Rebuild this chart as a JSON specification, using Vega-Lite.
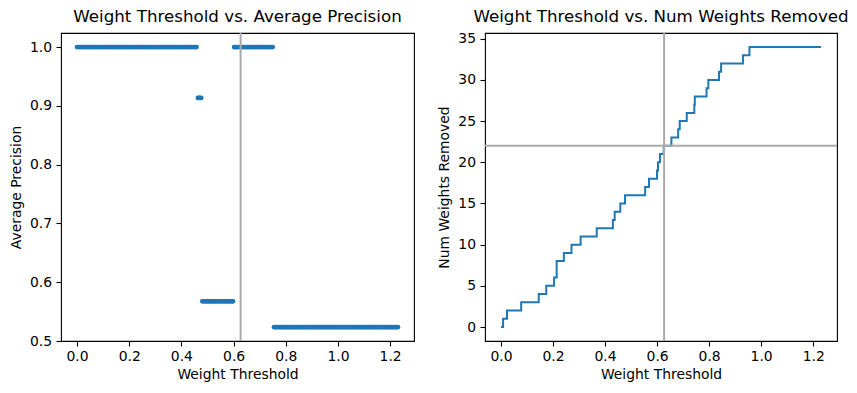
{
  "$schema": "https://vega.github.io/schema/vega-lite/v6.json",
  "background": "white",
  "padding": {"left": 8, "top": 8, "right": 5, "bottom": 5},
  "spacing": 22,
  "config": {
    "font": "DejaVu Sans",
    "view": {"stroke": "#000000", "strokeWidth": 1.1},
    "axis": {"grid": false, "domain": false, "tickColor": "#000000", "tickSize": 5, "tickWidth": 1.1, "labelColor": "#000000", "labelFontSize": 13.9, "titleFontSize": 13.9, "titleFontWeight": "normal", "titleColor": "#000000", "labelFont": "DejaVu Sans", "titleFont": "DejaVu Sans"},
    "axisX": {"labelPadding": 3.5, "titlePadding": 4},
    "axisY": {"labelPadding": 4.5, "titlePadding": 6},
    "title": {"fontSize": 16.7, "fontWeight": "normal", "color": "#000000", "font": "DejaVu Sans", "frame": "group", "anchor": "middle", "baseline": "alphabetic", "offset": 6}
  },
  "datasets": {
    "precision": [
      {"threshold": 0.000, "ap": 1.0}, {"threshold": 0.005, "ap": 1.0}, {"threshold": 0.010, "ap": 1.0}, {"threshold": 0.015, "ap": 1.0}, {"threshold": 0.020, "ap": 1.0},
      {"threshold": 0.025, "ap": 1.0}, {"threshold": 0.030, "ap": 1.0}, {"threshold": 0.035, "ap": 1.0}, {"threshold": 0.040, "ap": 1.0}, {"threshold": 0.045, "ap": 1.0},
      {"threshold": 0.050, "ap": 1.0}, {"threshold": 0.055, "ap": 1.0}, {"threshold": 0.060, "ap": 1.0}, {"threshold": 0.065, "ap": 1.0}, {"threshold": 0.070, "ap": 1.0},
      {"threshold": 0.075, "ap": 1.0}, {"threshold": 0.080, "ap": 1.0}, {"threshold": 0.085, "ap": 1.0}, {"threshold": 0.090, "ap": 1.0}, {"threshold": 0.095, "ap": 1.0},
      {"threshold": 0.100, "ap": 1.0}, {"threshold": 0.105, "ap": 1.0}, {"threshold": 0.110, "ap": 1.0}, {"threshold": 0.115, "ap": 1.0}, {"threshold": 0.120, "ap": 1.0},
      {"threshold": 0.125, "ap": 1.0}, {"threshold": 0.130, "ap": 1.0}, {"threshold": 0.135, "ap": 1.0}, {"threshold": 0.140, "ap": 1.0}, {"threshold": 0.145, "ap": 1.0},
      {"threshold": 0.150, "ap": 1.0}, {"threshold": 0.155, "ap": 1.0}, {"threshold": 0.160, "ap": 1.0}, {"threshold": 0.165, "ap": 1.0}, {"threshold": 0.170, "ap": 1.0},
      {"threshold": 0.175, "ap": 1.0}, {"threshold": 0.180, "ap": 1.0}, {"threshold": 0.185, "ap": 1.0}, {"threshold": 0.190, "ap": 1.0}, {"threshold": 0.195, "ap": 1.0},
      {"threshold": 0.200, "ap": 1.0}, {"threshold": 0.205, "ap": 1.0}, {"threshold": 0.210, "ap": 1.0}, {"threshold": 0.215, "ap": 1.0}, {"threshold": 0.220, "ap": 1.0},
      {"threshold": 0.225, "ap": 1.0}, {"threshold": 0.230, "ap": 1.0}, {"threshold": 0.235, "ap": 1.0}, {"threshold": 0.240, "ap": 1.0}, {"threshold": 0.245, "ap": 1.0},
      {"threshold": 0.250, "ap": 1.0}, {"threshold": 0.255, "ap": 1.0}, {"threshold": 0.260, "ap": 1.0}, {"threshold": 0.265, "ap": 1.0}, {"threshold": 0.270, "ap": 1.0},
      {"threshold": 0.275, "ap": 1.0}, {"threshold": 0.280, "ap": 1.0}, {"threshold": 0.285, "ap": 1.0}, {"threshold": 0.290, "ap": 1.0}, {"threshold": 0.295, "ap": 1.0},
      {"threshold": 0.300, "ap": 1.0}, {"threshold": 0.305, "ap": 1.0}, {"threshold": 0.310, "ap": 1.0}, {"threshold": 0.315, "ap": 1.0}, {"threshold": 0.320, "ap": 1.0},
      {"threshold": 0.325, "ap": 1.0}, {"threshold": 0.330, "ap": 1.0}, {"threshold": 0.335, "ap": 1.0}, {"threshold": 0.340, "ap": 1.0}, {"threshold": 0.345, "ap": 1.0},
      {"threshold": 0.350, "ap": 1.0}, {"threshold": 0.355, "ap": 1.0}, {"threshold": 0.360, "ap": 1.0}, {"threshold": 0.365, "ap": 1.0}, {"threshold": 0.370, "ap": 1.0},
      {"threshold": 0.375, "ap": 1.0}, {"threshold": 0.380, "ap": 1.0}, {"threshold": 0.385, "ap": 1.0}, {"threshold": 0.390, "ap": 1.0}, {"threshold": 0.395, "ap": 1.0},
      {"threshold": 0.400, "ap": 1.0}, {"threshold": 0.405, "ap": 1.0}, {"threshold": 0.410, "ap": 1.0}, {"threshold": 0.415, "ap": 1.0}, {"threshold": 0.420, "ap": 1.0},
      {"threshold": 0.425, "ap": 1.0}, {"threshold": 0.430, "ap": 1.0}, {"threshold": 0.435, "ap": 1.0}, {"threshold": 0.440, "ap": 1.0}, {"threshold": 0.445, "ap": 1.0},
      {"threshold": 0.450, "ap": 1.0}, {"threshold": 0.455, "ap": 1.0}, {"threshold": 0.458, "ap": 1.0},
      {"threshold": 0.463, "ap": 0.9135}, {"threshold": 0.467, "ap": 0.9135}, {"threshold": 0.471, "ap": 0.9135}, {"threshold": 0.476, "ap": 0.9135},
      {"threshold": 0.480, "ap": 0.5675}, {"threshold": 0.485, "ap": 0.5675}, {"threshold": 0.490, "ap": 0.5675}, {"threshold": 0.495, "ap": 0.5675}, {"threshold": 0.500, "ap": 0.5675},
      {"threshold": 0.505, "ap": 0.5675}, {"threshold": 0.510, "ap": 0.5675}, {"threshold": 0.515, "ap": 0.5675}, {"threshold": 0.520, "ap": 0.5675}, {"threshold": 0.525, "ap": 0.5675},
      {"threshold": 0.530, "ap": 0.5675}, {"threshold": 0.535, "ap": 0.5675}, {"threshold": 0.540, "ap": 0.5675}, {"threshold": 0.545, "ap": 0.5675}, {"threshold": 0.550, "ap": 0.5675},
      {"threshold": 0.555, "ap": 0.5675}, {"threshold": 0.560, "ap": 0.5675}, {"threshold": 0.565, "ap": 0.5675}, {"threshold": 0.570, "ap": 0.5675}, {"threshold": 0.575, "ap": 0.5675},
      {"threshold": 0.580, "ap": 0.5675}, {"threshold": 0.585, "ap": 0.5675}, {"threshold": 0.590, "ap": 0.5675}, {"threshold": 0.595, "ap": 0.5675}, {"threshold": 0.598, "ap": 0.5675},
      {"threshold": 0.602, "ap": 1.0}, {"threshold": 0.605, "ap": 1.0}, {"threshold": 0.610, "ap": 1.0}, {"threshold": 0.615, "ap": 1.0}, {"threshold": 0.620, "ap": 1.0},
      {"threshold": 0.625, "ap": 1.0}, {"threshold": 0.630, "ap": 1.0}, {"threshold": 0.635, "ap": 1.0}, {"threshold": 0.640, "ap": 1.0}, {"threshold": 0.645, "ap": 1.0},
      {"threshold": 0.650, "ap": 1.0}, {"threshold": 0.655, "ap": 1.0}, {"threshold": 0.660, "ap": 1.0}, {"threshold": 0.665, "ap": 1.0}, {"threshold": 0.670, "ap": 1.0},
      {"threshold": 0.675, "ap": 1.0}, {"threshold": 0.680, "ap": 1.0}, {"threshold": 0.685, "ap": 1.0}, {"threshold": 0.690, "ap": 1.0}, {"threshold": 0.695, "ap": 1.0},
      {"threshold": 0.700, "ap": 1.0}, {"threshold": 0.705, "ap": 1.0}, {"threshold": 0.710, "ap": 1.0}, {"threshold": 0.715, "ap": 1.0}, {"threshold": 0.720, "ap": 1.0},
      {"threshold": 0.725, "ap": 1.0}, {"threshold": 0.730, "ap": 1.0}, {"threshold": 0.735, "ap": 1.0}, {"threshold": 0.740, "ap": 1.0}, {"threshold": 0.745, "ap": 1.0},
      {"threshold": 0.750, "ap": 1.0},
      {"threshold": 0.755, "ap": 0.5235}, {"threshold": 0.760, "ap": 0.5235}, {"threshold": 0.765, "ap": 0.5235}, {"threshold": 0.770, "ap": 0.5235}, {"threshold": 0.775, "ap": 0.5235},
      {"threshold": 0.780, "ap": 0.5235}, {"threshold": 0.785, "ap": 0.5235}, {"threshold": 0.790, "ap": 0.5235}, {"threshold": 0.795, "ap": 0.5235}, {"threshold": 0.800, "ap": 0.5235},
      {"threshold": 0.805, "ap": 0.5235}, {"threshold": 0.810, "ap": 0.5235}, {"threshold": 0.815, "ap": 0.5235}, {"threshold": 0.820, "ap": 0.5235}, {"threshold": 0.825, "ap": 0.5235},
      {"threshold": 0.830, "ap": 0.5235}, {"threshold": 0.835, "ap": 0.5235}, {"threshold": 0.840, "ap": 0.5235}, {"threshold": 0.845, "ap": 0.5235}, {"threshold": 0.850, "ap": 0.5235},
      {"threshold": 0.855, "ap": 0.5235}, {"threshold": 0.860, "ap": 0.5235}, {"threshold": 0.865, "ap": 0.5235}, {"threshold": 0.870, "ap": 0.5235}, {"threshold": 0.875, "ap": 0.5235},
      {"threshold": 0.880, "ap": 0.5235}, {"threshold": 0.885, "ap": 0.5235}, {"threshold": 0.890, "ap": 0.5235}, {"threshold": 0.895, "ap": 0.5235}, {"threshold": 0.900, "ap": 0.5235},
      {"threshold": 0.905, "ap": 0.5235}, {"threshold": 0.910, "ap": 0.5235}, {"threshold": 0.915, "ap": 0.5235}, {"threshold": 0.920, "ap": 0.5235}, {"threshold": 0.925, "ap": 0.5235},
      {"threshold": 0.930, "ap": 0.5235}, {"threshold": 0.935, "ap": 0.5235}, {"threshold": 0.940, "ap": 0.5235}, {"threshold": 0.945, "ap": 0.5235}, {"threshold": 0.950, "ap": 0.5235},
      {"threshold": 0.955, "ap": 0.5235}, {"threshold": 0.960, "ap": 0.5235}, {"threshold": 0.965, "ap": 0.5235}, {"threshold": 0.970, "ap": 0.5235}, {"threshold": 0.975, "ap": 0.5235},
      {"threshold": 0.980, "ap": 0.5235}, {"threshold": 0.985, "ap": 0.5235}, {"threshold": 0.990, "ap": 0.5235}, {"threshold": 0.995, "ap": 0.5235}, {"threshold": 1.000, "ap": 0.5235},
      {"threshold": 1.005, "ap": 0.5235}, {"threshold": 1.010, "ap": 0.5235}, {"threshold": 1.015, "ap": 0.5235}, {"threshold": 1.020, "ap": 0.5235}, {"threshold": 1.025, "ap": 0.5235},
      {"threshold": 1.030, "ap": 0.5235}, {"threshold": 1.035, "ap": 0.5235}, {"threshold": 1.040, "ap": 0.5235}, {"threshold": 1.045, "ap": 0.5235}, {"threshold": 1.050, "ap": 0.5235},
      {"threshold": 1.055, "ap": 0.5235}, {"threshold": 1.060, "ap": 0.5235}, {"threshold": 1.065, "ap": 0.5235}, {"threshold": 1.070, "ap": 0.5235}, {"threshold": 1.075, "ap": 0.5235},
      {"threshold": 1.080, "ap": 0.5235}, {"threshold": 1.085, "ap": 0.5235}, {"threshold": 1.090, "ap": 0.5235}, {"threshold": 1.095, "ap": 0.5235}, {"threshold": 1.100, "ap": 0.5235},
      {"threshold": 1.105, "ap": 0.5235}, {"threshold": 1.110, "ap": 0.5235}, {"threshold": 1.115, "ap": 0.5235}, {"threshold": 1.120, "ap": 0.5235}, {"threshold": 1.125, "ap": 0.5235},
      {"threshold": 1.130, "ap": 0.5235}, {"threshold": 1.135, "ap": 0.5235}, {"threshold": 1.140, "ap": 0.5235}, {"threshold": 1.145, "ap": 0.5235}, {"threshold": 1.150, "ap": 0.5235},
      {"threshold": 1.155, "ap": 0.5235}, {"threshold": 1.160, "ap": 0.5235}, {"threshold": 1.165, "ap": 0.5235}, {"threshold": 1.170, "ap": 0.5235}, {"threshold": 1.175, "ap": 0.5235},
      {"threshold": 1.180, "ap": 0.5235}, {"threshold": 1.185, "ap": 0.5235}, {"threshold": 1.190, "ap": 0.5235}, {"threshold": 1.195, "ap": 0.5235}, {"threshold": 1.200, "ap": 0.5235},
      {"threshold": 1.205, "ap": 0.5235}, {"threshold": 1.210, "ap": 0.5235}, {"threshold": 1.215, "ap": 0.5235}, {"threshold": 1.220, "ap": 0.5235}, {"threshold": 1.225, "ap": 0.5235},
      {"threshold": 1.230, "ap": 0.5235}
    ],
    "removed": [
      {"threshold": 0.0, "removed": 0}, {"threshold": 0.008, "removed": 1}, {"threshold": 0.023, "removed": 2}, {"threshold": 0.0775, "removed": 3},
      {"threshold": 0.145, "removed": 4}, {"threshold": 0.174, "removed": 5}, {"threshold": 0.204, "removed": 6}, {"threshold": 0.214, "removed": 8},
      {"threshold": 0.2416, "removed": 9}, {"threshold": 0.271, "removed": 10}, {"threshold": 0.306, "removed": 11}, {"threshold": 0.368, "removed": 12},
      {"threshold": 0.430, "removed": 13}, {"threshold": 0.437, "removed": 14}, {"threshold": 0.4586, "removed": 15}, {"threshold": 0.4767, "removed": 16},
      {"threshold": 0.554, "removed": 17}, {"threshold": 0.569, "removed": 18}, {"threshold": 0.5996, "removed": 19}, {"threshold": 0.6035, "removed": 20},
      {"threshold": 0.611, "removed": 21}, {"threshold": 0.6255, "removed": 22}, {"threshold": 0.655, "removed": 23}, {"threshold": 0.681, "removed": 24},
      {"threshold": 0.687, "removed": 25}, {"threshold": 0.714, "removed": 26}, {"threshold": 0.743, "removed": 27}, {"threshold": 0.745, "removed": 28},
      {"threshold": 0.790, "removed": 29}, {"threshold": 0.797, "removed": 30}, {"threshold": 0.838, "removed": 31}, {"threshold": 0.846, "removed": 32},
      {"threshold": 0.930, "removed": 33}, {"threshold": 0.955, "removed": 34}, {"threshold": 1.23, "removed": 34}
    ],
    "vline": [{"threshold": 0.627}],
    "hline": [{"removed": 22}]
  },
  "hconcat": [
    {
      "width": 353,
      "height": 308,
      "title": "Weight Threshold vs. Average Precision",
      "layer": [
        {
          "data": {"name": "precision"},
          "mark": {"type": "circle", "size": 22, "opacity": 1, "color": "#1f77b4"},
          "encoding": {
            "x": {"field": "threshold", "type": "quantitative", "title": "Weight Threshold",
                  "scale": {"domain": [-0.0615, 1.2915], "nice": false, "zero": false},
                  "axis": {"values": [0, 0.2, 0.4, 0.6, 0.8, 1.0, 1.2], "format": ".1f"}},
            "y": {"field": "ap", "type": "quantitative", "title": "Average Precision",
                  "scale": {"domain": [0.5, 1.0239], "nice": false, "zero": false},
                  "axis": {"values": [0.5, 0.6, 0.7, 0.8, 0.9, 1.0], "format": ".1f"}}
          }
        },
        {
          "data": {"name": "vline"},
          "mark": {"type": "rule", "color": "#aaaaaa", "strokeWidth": 2},
          "encoding": {"x": {"field": "threshold", "type": "quantitative"}}
        }
      ]
    },
    {
      "width": 352,
      "height": 308,
      "title": "Weight Threshold vs. Num Weights Removed",
      "layer": [
        {
          "data": {"name": "removed"},
          "mark": {"type": "line", "interpolate": "step-after", "color": "#1f77b4", "strokeWidth": 2},
          "encoding": {
            "x": {"field": "threshold", "type": "quantitative", "title": "Weight Threshold",
                  "scale": {"domain": [-0.0615, 1.2915], "nice": false, "zero": false},
                  "axis": {"values": [0, 0.2, 0.4, 0.6, 0.8, 1.0, 1.2], "format": ".1f"}},
            "y": {"field": "removed", "type": "quantitative", "title": "Num Weights Removed",
                  "scale": {"domain": [-1.7, 35.7], "nice": false, "zero": false},
                  "axis": {"values": [0, 5, 10, 15, 20, 25, 30, 35], "format": "d"}}
          }
        },
        {
          "data": {"name": "vline"},
          "mark": {"type": "rule", "color": "#aaaaaa", "strokeWidth": 2},
          "encoding": {"x": {"field": "threshold", "type": "quantitative"}}
        },
        {
          "data": {"name": "hline"},
          "mark": {"type": "rule", "color": "#aaaaaa", "strokeWidth": 2},
          "encoding": {"y": {"field": "removed", "type": "quantitative"}}
        }
      ]
    }
  ]
}
